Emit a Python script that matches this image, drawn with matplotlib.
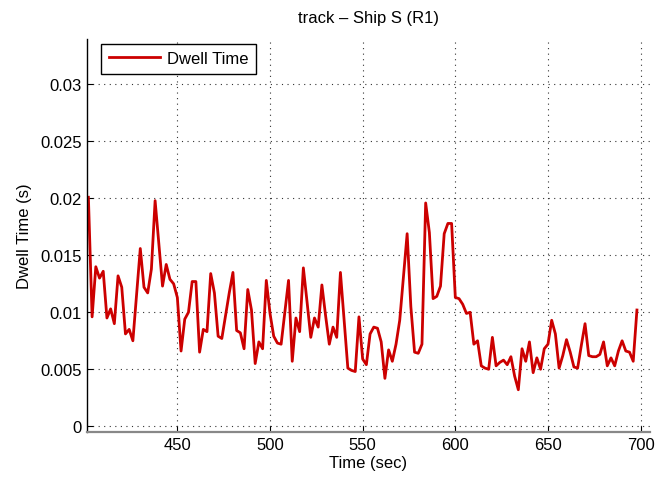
import numpy as np
import matplotlib
matplotlib.use("Agg")
from matplotlib import pyplot as plt

plt.rcParams['font.family'] = ['Liberation Sans', 'DejaVu Sans']

# sample times (one every 2 s) and measured dwell time
t = np.arange(402, 700, 2)
dwell = [
    0.0201, 0.0096, 0.0140, 0.0130, 0.0136, 0.0095, 0.0103, 0.0090, 0.0132, 0.0122,
    0.0081, 0.0085, 0.0075, 0.0115, 0.0156, 0.0122, 0.0117, 0.0138, 0.0198, 0.0161,
    0.0123, 0.0142, 0.0129, 0.0125, 0.0113, 0.0066, 0.0094, 0.0100, 0.0127, 0.0127,
    0.0065, 0.0085, 0.0083, 0.0134, 0.0117, 0.0079, 0.0077, 0.0097, 0.0117, 0.0135,
    0.0084, 0.0082, 0.0068, 0.0120, 0.0102, 0.0055, 0.0074, 0.0068, 0.0128, 0.0099,
    0.0079, 0.0073, 0.0072, 0.0100, 0.0128, 0.0057, 0.0095, 0.0083, 0.0139, 0.0109,
    0.0078, 0.0095, 0.0087, 0.0124, 0.0097, 0.0072, 0.0087, 0.0078, 0.0135, 0.0093,
    0.0051, 0.0049, 0.0048, 0.0096, 0.0059, 0.0054, 0.0081, 0.0087, 0.0086, 0.0074,
    0.0042, 0.0067, 0.0057, 0.0072, 0.0093, 0.0131, 0.0169, 0.0105, 0.0065, 0.0064,
    0.0072, 0.0196, 0.0170, 0.0112, 0.0114, 0.0123, 0.0169, 0.0178, 0.0178, 0.0113,
    0.0112, 0.0107, 0.0099, 0.0100, 0.0072, 0.0075, 0.0053, 0.0051, 0.0050, 0.0078,
    0.0053, 0.0056, 0.0058, 0.0054, 0.0061, 0.0044, 0.0032, 0.0068, 0.0057, 0.0074,
    0.0047, 0.0060, 0.0050, 0.0068, 0.0072, 0.0093, 0.0081, 0.0051, 0.0062, 0.0076,
    0.0065, 0.0052, 0.0051, 0.0071, 0.0090, 0.0062, 0.0061, 0.0061, 0.0063, 0.0074,
    0.0053, 0.0060, 0.0053, 0.0066, 0.0075, 0.0066, 0.0065, 0.0057, 0.0102,
]
xticks = [450, 500, 550, 600, 650, 700]
yticks = [0, 0.005, 0.01, 0.015, 0.02, 0.025, 0.03]
ytick_labels = ["0", "0.005", "0.01", "0.015", "0.02", "0.025", "0.03"]

fig = plt.figure(figsize=(6.7, 4.81), dpi=100)
ax = fig.add_axes([0.130, 0.100, 0.840, 0.817])

ax.plot(t, dwell, color="#cc0000", linewidth=2.0, label="Dwell Time")

ax.set_xlim(401.3, 705)
ax.set_ylim(-0.0005, 0.034)
ax.set_xticks(xticks)
ax.set_yticks(yticks)
ax.set_yticklabels(ytick_labels)
ax.tick_params(direction="in", length=4, width=0.8, labelsize=12, pad=4)
ax.grid(True, linestyle=(0, (1, 4)), color="#333333", linewidth=0.8)

ax.spines["top"].set_visible(False)
ax.spines["right"].set_visible(False)
ax.spines["left"].set_linewidth(1.0)
ax.spines["bottom"].set_color("#888888")
ax.spines["bottom"].set_linewidth(1.6)

ax.set_xlabel("Time (sec)", fontsize=12, labelpad=2)
ax.set_ylabel("Dwell Time (s)", fontsize=12, labelpad=6)
ax.set_title("track \u2013 Ship S (R1)", fontsize=12, pad=12)

leg = ax.legend(loc="upper left", fontsize=12, fancybox=False, framealpha=1,
                edgecolor="black", handlelength=3.1, handletextpad=0.4,
                borderpad=0.45, borderaxespad=0,
                bbox_to_anchor=(0.025, 0.988))
leg.get_frame().set_linewidth(1.0)

fig.savefig("out.png", dpi=100)
